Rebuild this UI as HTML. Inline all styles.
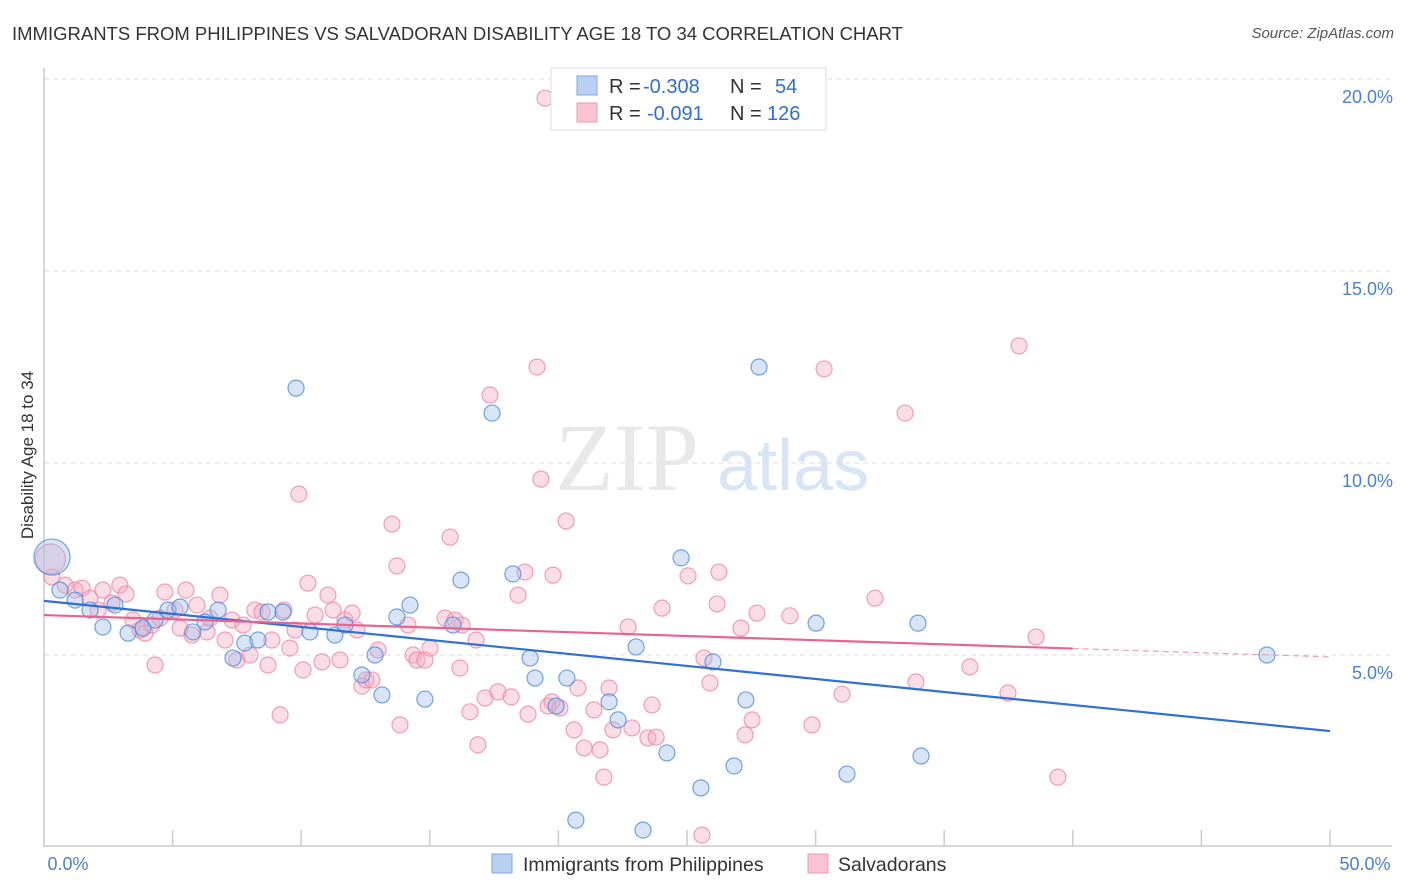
<!DOCTYPE html>
<html><head><meta charset="utf-8"><style>
body{margin:0;background:#fff;font-family:"Liberation Sans",sans-serif;}
#wrap{position:relative;width:1406px;height:892px;}
.t{position:absolute;white-space:nowrap;}
</style></head><body>
<div id="wrap">
<div class="t" style="left:12px;top:23px;font-size:18.5px;color:#333;">IMMIGRANTS FROM PHILIPPINES VS SALVADORAN DISABILITY AGE 18 TO 34 CORRELATION CHART</div>
<div class="t" style="right:12px;top:25px;font-size:15px;color:#555;font-style:italic;">Source: ZipAtlas.com</div>
<svg id="svg" width="1406" height="892" style="position:absolute;left:0;top:0"></svg>
</div>
<script>
const blueX=[0.31,0.62,1.21,1.79,2.29,2.76,3.27,3.85,4.32,4.82,5.29,5.79,6.26,6.77,7.35,7.81,8.32,8.71,9.29,9.80,10.34,11.31,11.70,12.36,12.87,13.14,13.72,14.23,14.81,15.90,16.21,17.42,18.23,18.90,19.09,19.91,20.33,20.68,21.97,22.32,23.02,23.29,24.22,24.77,25.54,26.01,26.83,27.29,27.80,30.02,31.22,33.98,34.10,47.55];
const blueY=[7.55,6.69,6.43,6.17,5.73,6.30,5.57,5.70,5.91,6.17,6.25,5.60,5.86,6.17,4.92,5.31,5.39,6.12,6.12,11.95,5.60,5.52,5.78,4.48,5.00,3.96,5.99,6.30,3.85,5.78,6.95,11.30,7.11,4.92,4.40,3.67,4.40,0.70,3.78,3.31,5.21,0.44,2.45,7.53,1.54,4.82,2.11,3.83,12.50,5.83,1.90,5.83,2.37,5.00];
const pinkX=[0.31,0.82,1.21,1.48,1.79,2.10,2.29,2.64,2.95,3.19,3.46,3.73,3.93,4.20,4.32,4.51,4.70,5.09,5.29,5.52,5.75,5.95,6.34,6.45,6.84,7.04,7.31,7.50,7.74,8.01,8.20,8.48,8.71,8.86,9.18,9.33,9.56,9.76,9.91,10.07,10.26,10.54,10.81,11.04,11.24,11.51,11.70,11.98,12.17,12.36,12.52,12.75,12.99,13.53,13.72,13.84,14.15,14.35,14.50,14.81,15.01,15.59,15.79,15.98,16.17,16.25,16.56,16.80,16.87,17.15,17.34,17.65,18.16,18.43,18.70,18.82,19.17,19.32,19.60,19.75,19.79,20.06,20.30,20.61,20.76,21.00,21.38,21.62,21.77,21.97,22.12,22.71,22.86,23.48,23.64,23.80,24.03,25.04,25.58,25.66,25.89,26.17,26.24,27.10,27.26,27.53,27.72,29.00,29.86,30.33,31.03,32.31,33.48,33.90,36.00,37.48,37.91,38.57,39.42,19.48,0.25];
const pinkY=[7.03,6.82,6.69,6.74,6.48,6.17,6.69,6.35,6.82,6.59,5.91,5.65,5.57,5.78,4.74,5.96,6.64,6.17,5.70,6.69,5.52,6.30,5.60,5.96,6.56,5.39,5.91,4.87,5.78,5.00,6.17,6.12,4.74,5.39,3.44,6.17,5.18,5.65,9.19,4.61,6.87,6.04,4.82,6.56,6.17,4.87,5.91,6.09,5.65,4.19,4.35,4.35,5.13,8.41,7.32,3.18,5.78,5.00,4.87,4.87,5.18,5.96,8.07,5.91,4.66,5.78,3.52,5.39,2.66,3.88,11.77,4.04,3.91,6.56,7.16,3.46,12.50,9.58,3.67,3.78,7.08,3.62,8.49,3.05,4.14,2.58,3.57,2.53,1.82,4.14,3.05,5.73,3.10,2.84,3.70,2.86,6.22,7.06,0.31,4.92,4.27,6.33,7.16,5.70,2.92,3.31,6.09,6.02,3.18,12.45,3.98,6.48,11.30,4.30,4.69,4.01,13.05,5.47,1.82,19.50,7.5];
const blueTrend=[6.41,3.02];
const pinkTrend=[6.04,4.95];
const yTicks=[5,10,15,20];
const xTickLabels=["0.0%","50.0%"];

const svg=document.getElementById('svg');
const NS='http://www.w3.org/2000/svg';
const X0=44,X1=1330,Y0=847,PPY=192/5;
const sx=v=>X0+(v/50)*(X1-X0);
const sy=v=>Y0-v*PPY;
function mk(tag,attrs,parent){const e=document.createElementNS(NS,tag);for(const k in attrs)e.setAttribute(k,attrs[k]);(parent||svg).appendChild(e);return e;}

yTicks.forEach(t=>{
 const g=mk('line',{x1:X0,x2:1392,y1:sy(t),y2:sy(t),stroke:'#ddd','stroke-dasharray':'5,4','stroke-width':1});
 
 
 const l=mk('text',{x:1393,y:sy(t)+24,'text-anchor':'end','font-size':18,fill:'#4a7fd4','font-family':'Liberation Sans, sans-serif'});
 l.textContent=t.toFixed(1)+'%';
 
 
});
const ya=mk('line',{x1:X0,x2:X0,y1:68,y2:847,stroke:'#ccc','stroke-width':1.5});


const xa=mk('line',{x1:X0,x2:1392,y1:846,y2:846,stroke:'#ccc','stroke-width':1.5});


for(let i=1;i<=10;i++){
 const tk=mk('line',{x1:sx(i*5),x2:sx(i*5),y1:830,y2:846,stroke:'#ccc','stroke-width':1.5});
 
 
}
[[0,68],[50,1365]].forEach((p,i)=>{
 const l=mk('text',{x:p[1],y:870,'text-anchor':'middle','font-size':18,fill:'#4a7fd4','font-family':'Liberation Sans, sans-serif'});
 l.textContent=xTickLabels[i];
 
 
});
const yt=mk('text',{x:0,y:0,transform:'translate(33,455) rotate(-90)','text-anchor':'middle','font-size':17,fill:'#333','font-family':'Liberation Sans, sans-serif'});
yt.textContent='Disability Age 18 to 34';


const wm=mk('text',{x:555,y:490,'font-size':96,fill:'#e8e8e8','font-family':'Liberation Serif, serif'});
wm.textContent='ZIP';


const wm2=mk('text',{x:717,y:490,'font-size':72,fill:'#d8e5f6','font-family':'Liberation Sans, sans-serif'});
wm2.textContent='atlas';



pinkX.forEach((x,i)=>{
 const big=i===pinkX.length-1;
 const c=mk('circle',{cx:sx(x),cy:sy(pinkY[i]),r:big?15:8,fill:'rgba(245,170,192,0.4)',stroke:'rgba(236,130,162,0.75)','stroke-width':1.2});
 
 
});
blueX.forEach((x,i)=>{
 const c=mk('circle',{cx:sx(x),cy:sy(blueY[i]),r:i===0?18:8,fill:'rgba(160,190,235,0.4)',stroke:'rgba(80,140,220,0.8)','stroke-width':1.2});
 
 
});
const bt=mk('line',{x1:sx(0),y1:sy(blueTrend[0]),x2:sx(50),y2:sy(blueTrend[1]),stroke:'#2f6fd6','stroke-width':2.2});


const pm=pinkTrend[0]+(pinkTrend[1]-pinkTrend[0])*0.8;
const pt=mk('line',{x1:sx(0),y1:sy(pinkTrend[0]),x2:sx(40),y2:sy(pm),stroke:'#e8638e','stroke-width':2.2});


const pd=mk('line',{x1:sx(40),y1:sy(pm),x2:sx(50),y2:sy(pinkTrend[1]),stroke:'#e8a0b8','stroke-width':1.2,'stroke-dasharray':'6,4'});



const lg=mk('g',{});


mk('rect',{x:551,y:68,width:275,height:62,fill:'#fff',stroke:'#ddd'},lg);
mk('rect',{x:577,y:76,width:20,height:19,fill:'#b9d0f1',stroke:'#7fa7e3'},lg);
mk('rect',{x:577,y:103,width:20,height:19,fill:'#f8c3d2',stroke:'#ee9ab5'},lg);
[[93,'-0.308','54',643,775],[120,'-0.091','126',647,767]].forEach(r=>{
 const t=mk('text',{x:609,y:r[0],'font-size':20,fill:'#333','font-family':'Liberation Sans, sans-serif'},lg);
 t.textContent='R =';
 const v=mk('text',{x:r[3],y:r[0],'font-size':20,fill:'#2f6fd6','font-family':'Liberation Sans, sans-serif'},lg);
 v.textContent=r[1];
 const n=mk('text',{x:730,y:r[0],'font-size':20,fill:'#333','font-family':'Liberation Sans, sans-serif'},lg);
 n.textContent='N =';
 const nv=mk('text',{x:r[4],y:r[0],'font-size':20,fill:'#2f6fd6','font-family':'Liberation Sans, sans-serif'},lg);
 nv.textContent=r[2];
});
const bl=mk('g',{});


mk('rect',{x:492,y:854,width:20,height:19,fill:'#b9d0f1',stroke:'#7fa7e3'},bl);
mk('rect',{x:808,y:854,width:20,height:19,fill:'#f8c3d2',stroke:'#ee9ab5'},bl);
const b1=mk('text',{x:523,y:871,'font-size':19.5,fill:'#333','font-family':'Liberation Sans, sans-serif'},bl);
b1.textContent='Immigrants from Philippines';
const b2=mk('text',{x:838,y:871,'font-size':19.5,fill:'#333','font-family':'Liberation Sans, sans-serif'},bl);
b2.textContent='Salvadorans';
</script>
</body></html>
